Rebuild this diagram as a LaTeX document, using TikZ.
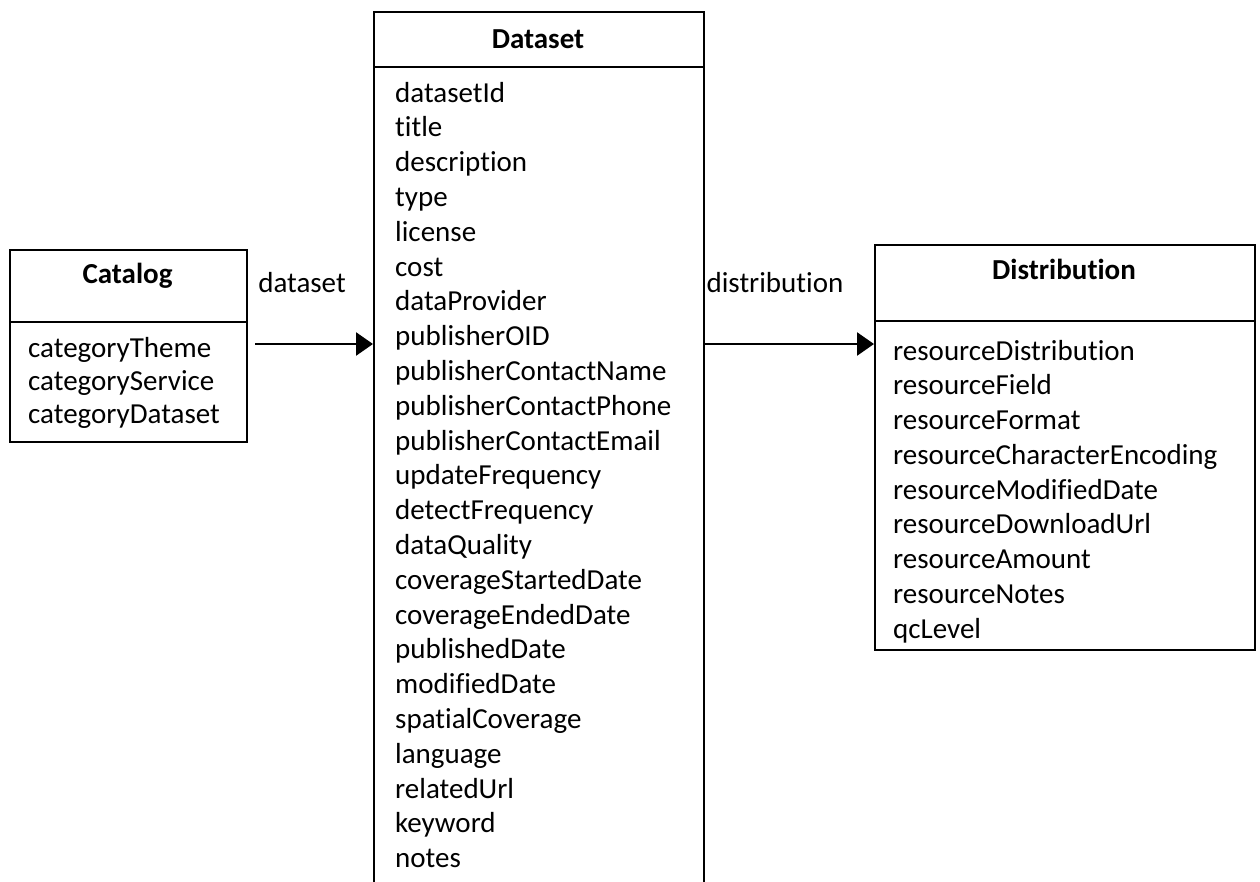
\documentclass[tikz,border=0pt]{standalone}
\usepackage{fontspec}
\setmainfont{Carlito}[Ligatures={NoCommon,NoContextual}]
\usetikzlibrary{arrows.meta,positioning}
\begin{document}
\begin{tikzpicture}[x=1pt, y=-1pt,
		box/.style = {draw, line width=2pt, anchor=north west, inner sep=0pt},
		attr/.style = {anchor=base west, inner sep=0pt, font=\fontsize{29}{35}\selectfont},
		head/.style = {anchor=base, inner sep=0pt, font=\fontsize{29}{35}\selectfont\bfseries},
		link/.style = {-{Triangle[length=17pt, width=23pt]}, line width=2.6pt}]
		\useasboundingbox (0,0) rectangle (1260,881);
		\clip (0,0) rectangle (1260,881);
		% Catalog
		\node[box, minimum width=237pt, minimum height=72pt] (cathead) at (9,249) {};
		\node[box, minimum width=237pt, minimum height=120pt] (catbody) at (9,321) {};
		\node[head] (catname) at (127.5,283) {Catalog};
		\foreach \attrname [count=\i from 0] in {categoryTheme, categoryService, categoryDataset}
			\node[attr] (cat-\i) at (28, 357+33*\i) {\attrname};
		% Dataset
		\node[box, minimum width=330pt, minimum height=55pt] (dshead) at (373,11) {};
		\node[box, minimum width=330pt, minimum height=860pt] (dsbody) at (373,66) {};
		\node[head] (dsname) at (538,48) {Dataset};
		\foreach \attrname [count=\i from 0] in {datasetId, title, description, type, license, cost, dataProvider, publisherOID, publisherContactName, publisherContactPhone, publisherContactEmail, updateFrequency, detectFrequency, dataQuality, coverageStartedDate, coverageEndedDate, publishedDate, modifiedDate, spatialCoverage, language, relatedUrl, keyword, notes}
			\node[attr] (ds-\i) at (395, 102+34.8*\i) {\attrname};
		% Distribution
		\node[box, minimum width=380pt, minimum height=76pt] (disthead) at (874,244) {};
		\node[box, minimum width=380pt, minimum height=329pt] (distbody) at (874,320) {};
		\node[head] (distname) at (1064,279) {Distribution};
		\foreach \attrname [count=\i from 0] in {resourceDistribution, resourceField, resourceFormat, resourceCharacterEncoding, resourceModifiedDate, resourceDownloadUrl, resourceAmount, resourceNotes, qcLevel}
			\node[attr] (dist-\i) at (893, 360+34.75*\i) {\attrname};
		% links
		\coordinate (catout) at ([yshift=-23pt]catbody.north east);
		\coordinate (dsout) at (dsbody.east |- catout);
		\draw[link, shorten <=7pt] (catout) -- (catout -| dsbody.west);
		\draw[link] (dsout) -- (dsout -| distbody.west);
		\node[attr, anchor=base] (catlink) at (302,292) {dataset};
		\node[attr, anchor=base] (distlink) at (775,292) {distribution};
	\end{tikzpicture}
\end{document}
